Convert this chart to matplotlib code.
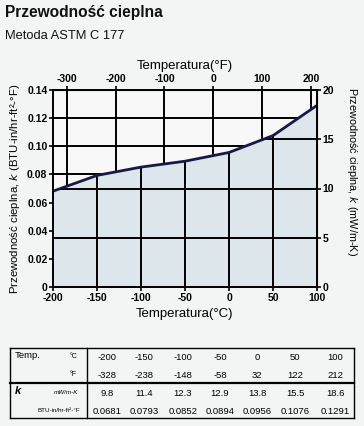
import matplotlib
matplotlib.use("Agg")
from matplotlib import pyplot as plt
from matplotlib.lines import Line2D
import numpy as np

# data
temp_c = [-200, -150, -100, -50, 0, 50, 100]
temp_f = [-328, -238, -148, -58, 32, 122, 212]
k_mw = [9.8, 11.4, 12.3, 12.9, 13.8, 15.5, 18.6]
k_btu = [0.0681, 0.0793, 0.0852, 0.0894, 0.0956, 0.1076, 0.1291]
k_mw_txt = ["9.8", "11.4", "12.3", "12.9", "13.8", "15.5", "18.6"]
k_btu_txt = ["0.0681", "0.0793", "0.0852", "0.0894", "0.0956", "0.1076", "0.1291"]
f_ticks = [-300, -200, -100, 0, 100, 200]
c_ticks = [-200, -150, -100, -50, 0, 50, 100]
btu_ticks = [0, 0.02, 0.04, 0.06, 0.08, 0.10, 0.12, 0.14]
btu_labels = ["0", "0.02", "0.04", "0.06", "0.08", "0.10", "0.12", "0.14"]
mw_ticks = [0, 5, 10, 15, 20]

W, H = 364, 426
BG = "#f3f5f4"
FILL = "#dde6eb"
plt.rcParams["font.family"] = ["Liberation Sans", "DejaVu Sans"]
plt.rcParams["axes.unicode_minus"] = False

fig = plt.figure(figsize=(W / 100, H / 100), dpi=100, facecolor=BG)


def px(x, y):
    return x / W, 1 - y / H


ax = fig.add_axes([53 / W, 1 - 287 / H, (317 - 53) / W, (287 - 90) / H])
ax.set_facecolor("#f7f8f7")
ax.set_xlim(-200, 100)
ax.set_ylim(0, 0.14)

c2f = lambda c: np.asarray(c) * 9 / 5 + 32
f2c = lambda f: (np.asarray(f) - 32) * 5 / 9
mw2btu = 0.14 / 20

# grid above the curve: deg F verticals, BTU horizontals
for f in f_ticks:
    ax.axvline(f2c(f), color="black", lw=1.4, zorder=1)
for b in btu_ticks[1:-1]:
    ax.axhline(b, color="black", lw=1.4, zorder=1)

# area under the curve
poly = ax.fill_between(temp_c, 0, k_btu, color=FILL, zorder=2, lw=0)

# grid below the curve: deg C verticals, mW horizontals
clip = poly.get_paths()[0]
for c in c_ticks[1:-1]:
    ln = ax.axvline(c, color="black", lw=1.4, zorder=3)
    ln.set_clip_path(clip, ax.transData)
for m in mw_ticks[1:-1]:
    ln = ax.axhline(m * mw2btu, color="black", lw=1.4, zorder=3)
    ln.set_clip_path(clip, ax.transData)

ax.plot(temp_c, k_btu, color="#181a45", lw=2.0, zorder=4, solid_capstyle="round")

for s in ax.spines.values():
    s.set_linewidth(1.4)
    s.set_zorder(5)

tick_kw = dict(labelsize=7.5, direction="inout", length=6, width=1.2, pad=1)
ax.set_xticks(c_ticks)
ax.set_yticks(btu_ticks)
ax.set_yticklabels(btu_labels)
ax.tick_params(**tick_kw)
for t in ax.get_xticklabels() + ax.get_yticklabels():
    t.set_fontweight("bold")

ax.set_xlabel("Temperatura(\u00b0C)", fontsize=9.5, labelpad=4)
ax.set_ylabel("Przewodno\u015b\u0107 cieplna, $k$ (BTU-in/hr-ft\u00b2-\u00b0F)", fontsize=8.2, labelpad=4)

top = ax.secondary_xaxis("top", functions=(c2f, f2c))
top.set_xticks(f_ticks)
top.tick_params(**tick_kw)
top.set_xlabel("Temperatura(\u00b0F)", fontsize=9.5, labelpad=4)
for t in top.get_xticklabels():
    t.set_fontweight("bold")

right = ax.secondary_yaxis("right", functions=(lambda b: np.asarray(b) / mw2btu,
                                               lambda m: np.asarray(m) * mw2btu))
right.set_yticks(mw_ticks)
right.tick_params(**tick_kw)
for t in right.get_yticklabels():
    t.set_fontweight("bold")
fig.text(*px(352, 172), "Przewodno\u015b\u0107 cieplna, $k$ (mW/m-K)", fontsize=7.8,
         rotation=-90, ha="center", va="center")

fig.text(*px(5, 13), "Przewodno\u015b\u0107 cieplna", fontsize=11.2, fontweight="bold",
         va="center", ha="left", color="#111111")
fig.text(*px(5, 36), "Metoda ASTM C 177", fontsize=9.3, va="center", ha="left", color="#111111")

# table
t_left, t_right, t_top, t_bot = 10, 354, 348, 418
sep_x, mid_y = 87, 383
col_x = [107, 144, 183, 220, 257, 295, 335]
row_y = [357, 375, 393, 411]


def hline(y, x0, x1, lw=1.0):
    fig.add_artist(Line2D([x0 / W, x1 / W], [1 - y / H, 1 - y / H], color="black", lw=lw))


def vline(x, y0, y1, lw=1.0):
    fig.add_artist(Line2D([x / W, x / W], [1 - y0 / H, 1 - y1 / H], color="black", lw=lw))


hline(t_top, t_left, t_right)
hline(t_bot, t_left, t_right)
hline(mid_y, t_left, t_right, lw=1.6)
vline(t_left, t_top, t_bot)
vline(t_right, t_top, t_bot)
vline(sep_x, t_top, t_bot)

fs = 6.8
fig.text(*px(15, row_y[0] - 2), "Temp.", fontsize=fs, va="center")
fig.text(*px(70, row_y[0]), "\u00b0C", fontsize=5, va="center")
fig.text(*px(70, row_y[1]), "\u00b0F", fontsize=5, va="center")
fig.text(*px(15, row_y[2] - 2), "k", fontsize=8, fontweight="bold", style="italic", va="center")
fig.text(*px(78, row_y[2]), "mW/m-K", fontsize=4.5, style="italic", va="center", ha="right")
fig.text(*px(80, row_y[3]), "BTU-in/hr-ft\u00b2-\u00b0F", fontsize=4.5, va="center", ha="right")

rows = [[str(v) for v in temp_c], [str(v) for v in temp_f], k_mw_txt, k_btu_txt]
for ry, vals in zip(row_y, rows):
    for cx, v in zip(col_x, vals):
        fig.text(*px(cx, ry), v, fontsize=fs, va="center", ha="center")

fig.savefig("out.png", dpi=100, facecolor=BG)
